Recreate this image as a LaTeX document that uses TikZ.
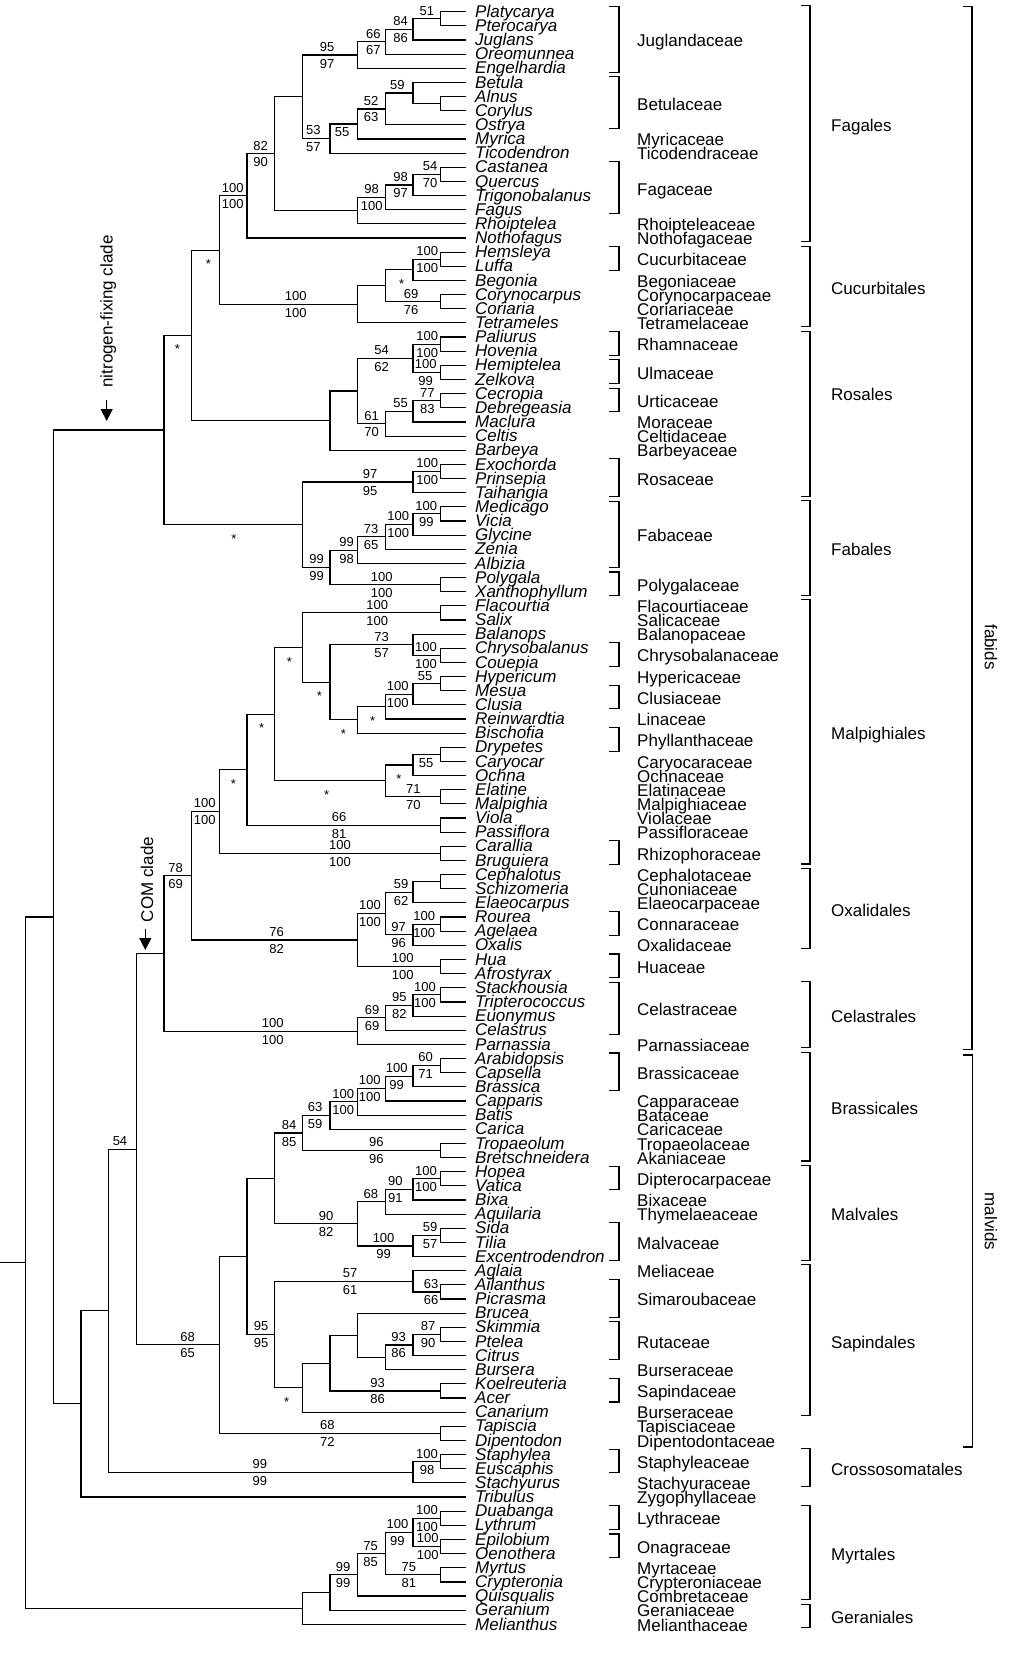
\documentclass[tikz,border=0pt]{standalone}
\usepackage{fontspec}
\setmainfont{Liberation Sans}
\usetikzlibrary{calc,arrows.meta}

\tikzset{
  branch/.style={line width=1.15pt},
  bracket/.style={line width=1.1pt},
  tip/.style={font=\fontsize{17}{17}\selectfont\itshape,anchor=mid west,inner sep=0pt},
  fam/.style={font=\fontsize{17}{17}\selectfont,anchor=mid west,inner sep=0pt},
  num/.style={font=\fontsize{13}{13}\selectfont,anchor=base,inner sep=0pt},
  cladelbl/.style={font=\fontsize{17}{17}\selectfont,inner sep=0pt},
  pointer/.style={line width=1.3pt,-{Triangle[length=12pt,width=12pt]}},
}

% clade: name, level (1 = next to the tips), upper child, lower child
\newcommand\clade[4]{%
  \path let \p1=(#3), \p2=(#4) in
    coordinate (#1) at ({(468.37-27.67*#2)*1pt},{(\y1+\y2)/2});
  \draw[branch] (#3) -| (#1) |- (#4);
}
% support values above / below the stem of a clade
\newcommand\bsupp[4]{%
  \path let \p1=(#1) in
    node[num] (#1u) at ({#2pt},{\y1+3.6pt}) {#3}
    node[num] (#1l) at ({#2pt},{\y1-13pt}) {#4};
}
\newcommand\cstar[2]{%
  \path let \p1=(#1) in node[num] (#1s) at ({#2pt},{\y1-18.5pt}) {*};
}

\begin{document}
\begin{tikzpicture}[x=1pt,y=-1pt]
\useasboundingbox (0,0) rectangle (1024,1664);

% tips
\foreach \tname [count=\i] in {Platycarya,Pterocarya,Juglans,Oreomunnea,Engelhardia,
  Betula,Alnus,Corylus,Ostrya,Myrica,Ticodendron,Castanea,Quercus,Trigonobalanus,Fagus,
  Rhoiptelea,Nothofagus,Hemsleya,Luffa,Begonia,Corynocarpus,Coriaria,Tetrameles,
  Paliurus,Hovenia,Hemiptelea,Zelkova,Cecropia,Debregeasia,Maclura,Celtis,Barbeya,
  Exochorda,Prinsepia,Taihangia,Medicago,Vicia,Glycine,Zenia,Albizia,Polygala,
  Xanthophyllum,Flacourtia,Salix,Balanops,Chrysobalanus,Couepia,Hypericum,Mesua,
  Clusia,Reinwardtia,Bischofia,Drypetes,Caryocar,Ochna,Elatine,Malpighia,Viola,
  Passiflora,Carallia,Bruguiera,Cephalotus,Schizomeria,Elaeocarpus,Rourea,Agelaea,
  Oxalis,Hua,Afrostyrax,Stackhousia,Tripterococcus,Euonymus,Celastrus,Parnassia,
  Arabidopsis,Capsella,Brassica,Capparis,Batis,Carica,Tropaeolum,Bretschneidera,
  Hopea,Vatica,Bixa,Aquilaria,Sida,Tilia,Excentrodendron,Aglaia,Ailanthus,Picrasma,
  Brucea,Skimmia,Ptelea,Citrus,Bursera,Koelreuteria,Acer,Canarium,Tapiscia,
  Dipentodon,Staphylea,Euscaphis,Stachyurus,Tribulus,Duabanga,Lythrum,Epilobium,
  Oenothera,Myrtus,Crypteronia,Quisqualis,Geranium,Melianthus} {
  \pgfmathsetmacro\ty{11.7+(\i-1)*14.146}
  \pgfmathsetmacro\ly{\ty+3}
  \coordinate (t\i) at (466,\ty);
  \node[tip] (tip\i) at (475,\ly) {\tname};
}

% Fagales
\clade{a1}{1}{t1}{t2}
\clade{a2}{2}{a1}{t3}
\clade{a3}{3}{a2}{t4}
\clade{a4}{4}{a3}{t5}
\clade{b1}{1}{t7}{t8}
\clade{b2}{2}{t6}{b1}
\clade{b3}{3}{b2}{t9}
\clade{b4}{4}{b3}{t10}
\clade{b5}{5}{b4}{t11}
\clade{a5}{6}{a4}{b5}
\clade{c1}{1}{t12}{t13}
\clade{c2}{2}{c1}{t14}
\clade{c3}{3}{c2}{t15}
\clade{c4}{4}{c3}{t16}
\clade{a6}{7}{a5}{c4}
\clade{a7}{8}{a6}{t17}
\bsupp{a1}{426.8}{51}{}
\bsupp{a2}{400.7}{84}{86}
\bsupp{a3}{373.3}{66}{67}
\bsupp{a4}{327}{95}{97}
\bsupp{b2}{397.3}{59}{}
\bsupp{b3}{371}{52}{63}
\bsupp{b4}{342}{}{55}
\bsupp{b5}{313.3}{53}{57}
\bsupp{c1}{430}{54}{70}
\bsupp{c2}{400.7}{98}{97}
\bsupp{c3}{371.7}{98}{100}
\bsupp{a6}{260.7}{82}{90}
\bsupp{a7}{232.8}{100}{100}

% Cucurbitales
\clade{d1}{1}{t18}{t19}
\clade{d2}{2}{d1}{t20}
\clade{d3}{1}{t21}{t22}
\clade{d4}{3}{d2}{d3}
\clade{d5}{4}{d4}{t23}
\clade{e1}{9}{a7}{d5}
\bsupp{d1}{427.3}{100}{100}
\cstar{d2}{401.7}
\bsupp{d3}{411}{69}{76}
\bsupp{d5}{295.7}{100}{100}
\cstar{e1}{208.3}

% Rosales
\clade{f1}{1}{t24}{t25}
\clade{f2}{1}{t26}{t27}
\clade{f3}{2}{f1}{f2}
\clade{f4}{1}{t28}{t29}
\clade{f5}{2}{f4}{t30}
\clade{f6}{3}{f5}{t31}
\clade{f7}{4}{f3}{f6}
\clade{f8}{5}{f7}{t32}
\clade{e2}{10}{e1}{f8}
\bsupp{f1}{427.3}{100}{100}
\bsupp{f2}{425.7}{100}{99}
\bsupp{f3}{381.7}{54}{62}
\bsupp{f4}{427.3}{77}{83}
\bsupp{f5}{400.7}{55}{}
\bsupp{f6}{371.7}{61}{70}
\cstar{e2}{177.3}

% Rosaceae, Fabales
\clade{g1}{1}{t33}{t34}
\clade{g2}{2}{g1}{t35}
\clade{g3}{1}{t36}{t37}
\clade{g4}{2}{g3}{t38}
\clade{g5}{3}{g4}{t39}
\clade{g6}{4}{g5}{t40}
\clade{g7}{1}{t41}{t42}
\clade{g8}{5}{g6}{g7}
\clade{g9}{6}{g2}{g8}
\clade{nfix}{11}{e2}{g9}
\bsupp{g1}{427.3}{100}{100}
\bsupp{g2}{370}{97}{95}
\bsupp{g3}{426.3}{100}{99}
\bsupp{g4}{398.3}{100}{100}
\bsupp{g5}{371}{73}{65}
\bsupp{g6}{346.7}{99}{98}
\bsupp{g7}{381.7}{100}{100}
\bsupp{g8}{316.7}{99}{99}
\cstar{g9}{234}

% Malpighiales
\clade{h1}{1}{t43}{t44}
\clade{h2}{1}{t46}{t47}
\clade{h3}{2}{t45}{h2}
\clade{h4}{1}{t48}{t49}
\clade{h5}{2}{h4}{t50}
\clade{h6}{3}{h5}{t51}
\clade{h7}{4}{h6}{t52}
\clade{h8}{5}{h3}{h7}
\clade{h9}{6}{h1}{h8}
\clade{h10}{1}{t53}{t54}
\clade{h11}{2}{h10}{t55}
\clade{h12}{1}{t56}{t57}
\clade{h13}{3}{h11}{h12}
\clade{h14}{7}{h9}{h13}
\clade{h15}{1}{t58}{t59}
\clade{h16}{8}{h14}{h15}
\clade{h17}{1}{t60}{t61}
\clade{h18}{9}{h16}{h17}
\bsupp{h1}{377.3}{100}{100}
\bsupp{h2}{426}{100}{100}
\bsupp{h3}{381.7}{73}{57}
\bsupp{h4}{425}{55}{}
\bsupp{h5}{397.7}{100}{100}
\cstar{h6}{372.7}
\cstar{h7}{343.3}
\cstar{h8}{319.3}
\cstar{h9}{289.3}
\bsupp{h10}{426}{}{55}
\cstar{h11}{399}
\bsupp{h12}{413.3}{71}{70}
\cstar{h13}{326.7}
\cstar{h14}{261.7}
\bsupp{h15}{339}{66}{81}
\cstar{h16}{233.3}
\bsupp{h17}{340}{100}{100}
\bsupp{h18}{204.7}{100}{100}

% Oxalidales, Huaceae
\clade{i1}{1}{t62}{t63}
\clade{i2}{2}{i1}{t64}
\clade{i3}{1}{t65}{t66}
\clade{i4}{2}{i3}{t67}
\clade{i5}{3}{i2}{i4}
\clade{i6}{1}{t68}{t69}
\clade{i7}{4}{i5}{i6}
\clade{h19}{10}{h18}{i7}
\bsupp{i2}{401}{59}{62}
\bsupp{i3}{424.3}{100}{100}
\bsupp{i4}{398.7}{97}{96}
\bsupp{i5}{370}{100}{100}
\bsupp{i6}{402.7}{100}{100}
\bsupp{i7}{276.7}{76}{82}
\bsupp{h19}{175.7}{78}{69}

% Celastrales
\clade{j1}{1}{t70}{t71}
\clade{j2}{2}{j1}{t72}
\clade{j3}{3}{j2}{t73}
\clade{j4}{4}{j3}{t74}
\clade{com}{11}{h19}{j4}
\bsupp{j1}{425}{100}{100}
\bsupp{j2}{399.3}{95}{82}
\bsupp{j3}{372}{69}{69}
\bsupp{j4}{272.7}{100}{100}

% Brassicales
\clade{k1}{1}{t75}{t76}
\clade{k2}{2}{k1}{t77}
\clade{k3}{3}{k2}{t78}
\clade{k4}{4}{k3}{t79}
\clade{k5}{5}{k4}{t80}
\clade{k6}{1}{t81}{t82}
\clade{k7}{6}{k5}{k6}
\bsupp{k1}{425.7}{60}{71}
\bsupp{k2}{396.7}{100}{99}
\bsupp{k3}{369.7}{100}{100}
\bsupp{k4}{343.3}{100}{100}
\bsupp{k5}{315}{63}{59}
\bsupp{k6}{376.4}{96}{96}
\bsupp{k7}{289}{84}{85}

% Malvales
\clade{l1}{1}{t83}{t84}
\clade{l2}{2}{l1}{t85}
\clade{l3}{3}{l2}{t86}
\clade{l4}{1}{t87}{t88}
\clade{l5}{2}{l4}{t89}
\clade{l6}{4}{l3}{l5}
\clade{k8}{7}{k7}{l6}
\bsupp{l1}{425.9}{100}{100}
\bsupp{l2}{395.4}{90}{91}
\bsupp{l3}{370.9}{68}{}
\bsupp{l4}{430.2}{59}{57}
\bsupp{l5}{383.6}{100}{99}
\bsupp{l6}{326.2}{90}{82}

% Sapindales
\clade{m1}{1}{t91}{t92}
\clade{m2}{2}{t90}{m1}
\clade{m3}{1}{t94}{t95}
\clade{m4}{2}{m3}{t96}
\clade{m5}{3}{m4}{t97}
\clade{m6}{4}{t93}{m5}
\clade{m7}{1}{t98}{t99}
\clade{m8}{5}{m6}{m7}
\clade{m9}{6}{m8}{t100}
\clade{m10}{7}{m2}{m9}
\clade{k9}{8}{k8}{m10}
\clade{m11}{1}{t101}{t102}
\clade{k10}{9}{k9}{m11}
\clade{o1}{12}{com}{k10}
\bsupp{m1}{431}{63}{66}
\bsupp{m2}{350}{57}{61}
\bsupp{m3}{428.2}{87}{90}
\bsupp{m4}{398.6}{93}{86}
\bsupp{m7}{377.6}{93}{86}
\cstar{m9}{286.7}
\bsupp{m10}{261}{95}{95}
\bsupp{m11}{327.4}{68}{72}
\bsupp{k10}{187.7}{68}{65}
\bsupp{o1}{120}{54}{}

% Crossosomatales, Tribulus
\clade{p1}{1}{t103}{t104}
\clade{p2}{2}{p1}{t105}
\clade{o2}{13}{o1}{p2}
\clade{o3}{14}{o2}{t106}
\clade{o4}{15}{nfix}{o3}
\bsupp{p1}{427}{100}{98}
\bsupp{p2}{259.8}{99}{99}

% Myrtales, Geraniales
\clade{q1}{1}{t107}{t108}
\clade{q2}{1}{t109}{t110}
\clade{q3}{2}{q1}{q2}
\clade{q4}{1}{t111}{t112}
\clade{q5}{3}{q3}{q4}
\clade{q6}{4}{q5}{t113}
\clade{q7}{5}{q6}{t114}
\clade{q8}{6}{q7}{t115}
\clade{root}{16}{o4}{q8}
\bsupp{q1}{427}{100}{100}
\bsupp{q2}{427.8}{100}{100}
\bsupp{q3}{397.4}{100}{99}
\bsupp{q4}{408.9}{75}{81}
\bsupp{q5}{370.5}{75}{85}
\bsupp{q6}{343.2}{99}{99}

\coordinate (stem) at (root -| 0,0);
\draw[branch] (stem) -- (root);

% clade markers
\coordinate (nfixa) at (106.7,400);
\coordinate (nfixb) at (106.7,421);
\draw[pointer] (nfixa) -- (nfixb);
\node[cladelbl,rotate=90] (nfixlbl) at (108.3,311.5) {nitrogen-fixing clade};
\coordinate (coma) at (145.3,929);
\coordinate (comb) at (145.3,950);
\draw[pointer] (coma) -- (comb);
\node[cladelbl,rotate=90] (comlbl) at (147,879.5) {COM clade};

% families
\foreach \fname/\fa/\fb/\br [count=\k] in {Juglandaceae/1/5/1,Betulaceae/6/9/1,
  Myricaceae/10/10/0,Ticodendraceae/11/11/0,Fagaceae/12/15/1,Rhoipteleaceae/16/16/0,
  Nothofagaceae/17/17/0,Cucurbitaceae/18/19/1,Begoniaceae/20/20/0,
  Corynocarpaceae/21/21/0,Coriariaceae/22/22/0,Tetramelaceae/23/23/0,
  Rhamnaceae/24/25/1,Ulmaceae/26/27/1,Urticaceae/28/29/1,Moraceae/30/30/0,
  Celtidaceae/31/31/0,Barbeyaceae/32/32/0,Rosaceae/33/35/1,Fabaceae/36/40/1,
  Polygalaceae/41/42/1,Flacourtiaceae/43/43/0,Salicaceae/44/44/0,
  Balanopaceae/45/45/0,Chrysobalanaceae/46/47/1,Hypericaceae/48/48/0,
  Clusiaceae/49/50/1,Linaceae/51/51/0,Phyllanthaceae/52/53/1,
  Caryocaraceae/54/54/0,Ochnaceae/55/55/0,Elatinaceae/56/56/0,
  Malpighiaceae/57/57/0,Violaceae/58/58/0,Passifloraceae/59/59/0,
  Rhizophoraceae/60/61/1,Cephalotaceae/62/62/0,Cunoniaceae/63/63/0,
  Elaeocarpaceae/64/64/0,Connaraceae/65/66/1,Oxalidaceae/67/67/0,
  Huaceae/68/69/1,Celastraceae/70/73/1,Parnassiaceae/74/74/0,
  Brassicaceae/75/77/1,Capparaceae/78/78/0,Bataceae/79/79/0,Caricaceae/80/80/0,
  Tropaeolaceae/81/81/0,Akaniaceae/82/82/0,Dipterocarpaceae/83/84/1,
  Bixaceae/85/85/0,Thymelaeaceae/86/86/0,Malvaceae/87/89/1,Meliaceae/90/90/0,
  Simaroubaceae/91/93/1,Rutaceae/94/96/1,Burseraceae/97/97/0,
  Sapindaceae/98/99/1,Burseraceae/100/100/0,Tapisciaceae/101/101/0,
  Dipentodontaceae/102/102/0,Staphyleaceae/103/104/1,Stachyuraceae/105/105/0,
  Zygophyllaceae/106/106/0,Lythraceae/107/108/1,Onagraceae/109/110/1,
  Myrtaceae/111/111/0,Crypteroniaceae/112/112/0,Combretaceae/113/113/0,
  Geraniaceae/114/114/0,Melianthaceae/115/115/0} {
  \pgfmathsetmacro\fy{11.7+((\fa+\fb)/2-1)*14.146+4}
  \node[fam] (fam\k) at (637,\fy) {\fname};
  \ifnum\br=1
    \pgfmathsetmacro\ftop{11.7+(\fa-1)*14.146-5.5}
    \pgfmathsetmacro\fbot{11.7+(\fb-1)*14.146+4}
    \draw[bracket] (609,\ftop) -- (619,\ftop) -- (619,\fbot) -- (609,\fbot);
  \fi
}

% orders
\foreach \oname/\oa/\ob/\ol in {Fagales/1/17/9,Cucurbitales/18/23/20.5,
  Rosales/24/35/28,Fabales/36/42/39,Malpighiales/43/61/52,Oxalidales/62/67/64.5,
  Celastrales/70/74/72,Brassicales/75/82/78.5,Malvales/83/89/86,
  Sapindales/90/100/95,Crossosomatales/103/105/104,Myrtales/107/113/110,
  Geraniales/114/115/114.5} {
  \pgfmathsetmacro\otop{11.7+(\oa-1)*14.146-6}
  \pgfmathsetmacro\obot{11.7+(\ob-1)*14.146+3.5}
  \pgfmathsetmacro\oy{11.7+(\ol-1)*14.146+4}
  \draw[bracket] (801,\otop) -- (810,\otop) -- (810,\obot) -- (801,\obot);
  \node[fam] (ord-\oname) at (831,\oy) {\oname};
}

% fabids, malvids
\draw[bracket] (963,6.7) -- (972,6.7) -- (972,1049.7) -- (963,1049.7);
\draw[bracket] (963,1055) -- (972.7,1055) -- (972.7,1447) -- (963,1447);
\node[cladelbl,rotate=-90] (fabids) at (991,647) {fabids};
\node[cladelbl,rotate=-90] (malvids) at (991,1221.5) {malvids};
\end{tikzpicture}
\end{document}
